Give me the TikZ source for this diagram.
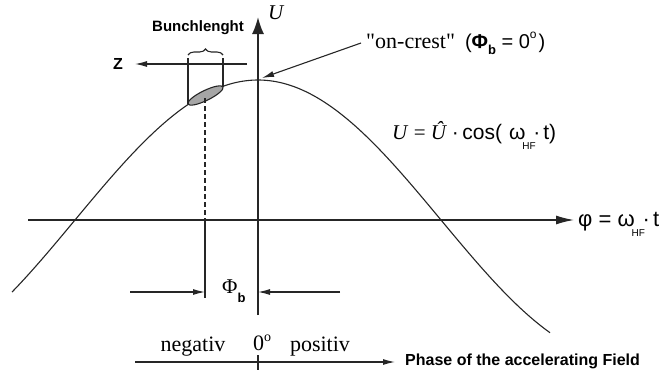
\documentclass[tikz,border=0pt]{standalone}
\usepackage{fontspec}
\setmainfont{Liberation Serif}
\setsansfont{Liberation Sans}
\newfontfamily\quotefont{Liberation Serif}[Ligatures=ResetAll]
\usetikzlibrary{arrows.meta,decorations.pathreplacing}
\newcommand{\hfsub}{\makebox[0pt][l]{\kern-3pt\raisebox{-10pt}{\fontsize{10}{10}\selectfont HF}}}
\newcommand{\fsz}[1]{\fontsize{#1}{#1}\selectfont}
\newcommand{\sq}{{\quotefont\symbol{34}}}

\begin{document}
\begin{tikzpicture}[x=1pt,y=-1pt,>={Latex[length=12pt,width=6pt]},
    lbl/.style={inner sep=0pt},
    ln/.style={line width=1.1pt,black!85}]
    \useasboundingbox (0,0) rectangle (669,378);

    % axes
    \coordinate (Ubot) at (258,315);
    \coordinate (Utop) at (258,17);
    \coordinate (Pl) at (28,220);
    \coordinate (Pr) at (574,220);
    \draw[ln,line width=1.8pt,-{Latex[length=17pt,width=12pt]}] (Ubot) -- (Utop);
    \draw[ln,line width=1.4pt,-{Latex[length=18pt,width=9pt]}] (Pl) -- (Pr);
    \node[lbl,anchor=west] (Ulab) at (268,13) {\fsz{21}\itshape U};
    \node[lbl,anchor=west] (philab) at (578,224) {\sffamily\fsz{22}φ = ω\hfsub\kern8pt·\kern3pt t};

    % the wave
    \draw[ln] plot[domain=12:550,samples=120,smooth] (\x,{220-140*cos((\x-258)/183*90)});
    \node[lbl,anchor=west] (Ueq) at (392,135)
        {\fsz{21}\itshape U\/ \upshape= \itshape Û\upshape\sffamily\ ·\,cos(\kern7pt ω\hfsub\kern8pt·\kern3pt t)};

    % the bunch
    \coordinate (Bl) at (188,104);
    \coordinate (Br) at (223,87);
    \coordinate (Bc) at (205.5,95.5);
    \fill[black!35] (Bc) circle[x radius=19.5pt,y radius=5pt,rotate=26];
    \draw[ln] (Bc) circle[x radius=19.5pt,y radius=5pt,rotate=26];
    \coordinate (Blt) at (188,58);
    \coordinate (Brt) at (223,58);
    \draw[ln] (Bl) -- (Blt);
    \draw[ln] (Br) -- (Brt);
    \draw[ln,decorate,decoration={brace,amplitude=6pt}] (188,55) -- (223,55);
    \node[lbl] (blen) at (198,28) {\sffamily\bfseries\fsz{15}Bunchlenght};
    \coordinate (Zr) at (247,64);
    \coordinate (Zl) at (135,64);
    \draw[ln,->] (Zr) -- (Zl);
    \node[lbl] (Z) at (118,64) {\sffamily\bfseries\fsz{16}Z};

    % on-crest
    \coordinate (crest) at (262,78);
    \node[lbl,anchor=west] (onc) at (366,43)
        {\fsz{22}\sq on-crest\sq\kern10pt\sffamily\fsz{20}(\textbf{Φ}\raisebox{-6pt}{\bfseries\fsz{13}b} = 0\raisebox{10pt}{\fsz{12}o}\kern2pt)};
    \coordinate (oncs) at (361,43);
    \draw[ln,->] (oncs) -- (crest);

    % phase of the bunch
    \coordinate (Dt) at (205,98);
    \coordinate (Dm) at (205,220);
    \coordinate (Db) at (205,298);
    \draw[ln,dash pattern=on 5pt off 3pt] (Dt) -- (Dm);
    \draw[ln] (Dm) -- (Db);
    \coordinate (Al) at (130,292);
    \coordinate (Ar) at (340,292);
    \draw[ln,->] (Al) -- (Db |- Al);
    \draw[ln,->] (Ar) -- (Ubot |- Ar);
    \node[lbl,anchor=west] (phib) at (222,291) {\fsz{21}Φ\raisebox{-9pt}{\sffamily\bfseries\fsz{13}b}};

    % bottom scale
    \coordinate (Sl) at (135,362);
    \coordinate (Sr) at (395,362);
    \draw[ln,->] (Sl) -- (Sr);
    \coordinate (Tt) at (258,355);
    \coordinate (Tb) at (258,370);
    \draw[ln] (Tt) -- (Tb);
    \node[lbl] (neg) at (193,347) {\fsz{22}negativ};
    \node[lbl] (zero) at (262,343) {\fsz{22}0\raisebox{9pt}{\fsz{14}o}};
    \node[lbl] (pos) at (320,347) {\fsz{22}positiv};
    \node[lbl,anchor=west] (phase) at (405,361) {\sffamily\bfseries\fsz{16}Phase of the accelerating Field};
\end{tikzpicture}
\end{document}
